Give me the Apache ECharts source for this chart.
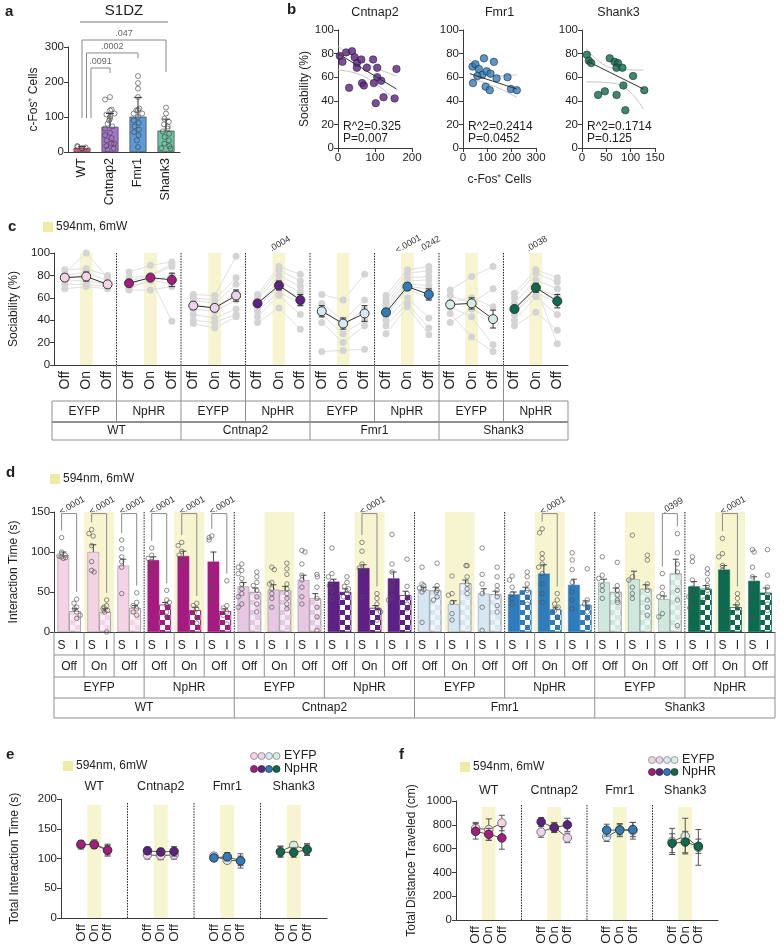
<!DOCTYPE html>
<html>
<head>
<meta charset="utf-8">
<title>S1DZ c-Fos and optogenetic sociability</title>
<script src="https://cdn.jsdelivr.net/npm/echarts@6.0.0/dist/echarts.min.js"></script>
<style>
  html, body { margin: 0; padding: 0; background: #fff; }
  #main { width: 784px; height: 951px; }
</style>
</head>
<body>
<div id="main"></div>
<script>
// ---------------- data ----------------
const genotypes = ['WT', 'Cntnap2', 'Fmr1', 'Shank3'];
const viruses = ['EYFP', 'NpHR'];
const conds = ['Off', 'On', 'Off'];

// a: c-Fos+ cells in S1DZ
const aMeans = [12, 72, 101, 61];
const aErr = [4, 38, 55, 33];
const aPoints = [
  [9, 11, 13, 15, 17],
  [157, 150, 119, 121, 107, 110, 101, 95, 90, 81, 73, 67, 55, 48, 40, 33, 24, 17, 10, 7, 24],
  [217, 197, 181, 157, 120, 110, 124, 119, 110, 100, 90, 83, 73, 64, 57, 48, 33, 14],
  [127, 110, 95, 86, 79, 73, 67, 59, 52, 43, 33, 24, 17, 11, 10]
];
// [compared group, bracket top, WT leg end, group leg end, p]
const aStats = [[1, 240, 97, 226, '.0091'], [2, 283, 97, 268, '.0002'], [3, 320, 97, 229, '.047']];

// b: sociability vs c-Fos+ cells
const bTitles = ['Cntnap2', 'Fmr1', 'Shank3'];
const bXMax = [200, 300, 150];
const bXStep = [100, 100, 50];
const bPoints = [
  [[5, 78], [12, 73], [22, 81], [38, 82], [45, 77], [51, 72], [63, 75], [51, 68], [78, 68], [30, 51], [65, 55],
   [70, 53], [95, 75], [106, 68], [106, 60], [117, 57], [97, 55], [102, 38], [123, 43], [153, 42], [158, 67]],
  [[39, 69], [51, 71], [86, 76], [65, 67], [79, 62], [59, 61], [97, 65], [113, 63], [41, 55], [93, 52], [110, 49],
   [127, 73], [138, 59], [183, 60], [197, 50], [221, 49]],
  [[10, 79], [14, 74], [19, 72], [57, 76], [67, 73], [74, 72], [71, 68], [83, 68], [33, 45], [47, 48], [71, 45],
   [85, 53], [105, 61], [89, 32], [128, 49]]
];
const bFit = [[[0, 80], [158, 50]], [[28, 63], [221, 50]], [[9, 74], [126, 50]]];
const bUpper = [[[0, 86], [75, 72], [158, 61]], [[28, 75], [120, 61], [221, 62]], [[9, 84], [70, 67], [126, 66]]];
const bLower = [[[0, 66], [75, 60], [158, 39]], [[28, 59], [120, 53], [221, 43]], [[9, 56], [64, 55], [126, 33]]];
const bStats = [['R^2=0.325', 'P=0.007'], ['R^2=0.2414', 'P=0.0452'], ['R^2=0.1714', 'P=0.125']];

// c: sociability (%), groups = WT EYFP, WT NpHR, Cntnap2 EYFP, ... Shank3 NpHR
const cMeans = [[78, 79, 72], [73, 78, 76], [53, 51, 62], [55, 71, 58], [48, 37, 46], [47, 70, 63], [54, 55, 41], [50, 69, 57]];
const cErr = [[3, 4, 2], [2, 2, 6], [3, 3, 5], [2, 4, 5], [5, 5, 7], [3, 3, 5], [3, 5, 8], [2, 4, 6]];
const cAnimals = [
  [[82, 100, 78], [85, 86, 80], [80, 83, 75], [76, 75, 72], [72, 72, 70], [68, 70, 68], [78, 80, 70]],
  [[83, 89, 92], [78, 80, 90], [75, 80, 88], [70, 75, 80], [67, 67, 70], [72, 78, 39], [68, 76, 72]],
  [[63, 62, 97], [60, 58, 78], [58, 55, 72], [55, 50, 65], [50, 48, 58], [45, 42, 50], [40, 38, 45], [37, 33, 43]],
  [[63, 88, 81], [60, 85, 75], [58, 80, 70], [55, 75, 65], [52, 70, 60], [48, 65, 55], [43, 62, 45], [38, 51, 32]],
  [[63, 58, 81], [55, 40, 58], [50, 35, 50], [45, 28, 40], [38, 20, 35], [12, 13, 14]],
  [[62, 85, 88], [58, 82, 84], [55, 78, 79], [52, 75, 76], [50, 72, 71], [47, 70, 68], [44, 68, 60], [40, 60, 42], [35, 55, 33], [28, 52, 27]],
  [[67, 79, 88], [62, 55, 68], [56, 60, 52], [52, 43, 18], [46, 25, 12], [38, 50, 40]],
  [[64, 85, 78], [60, 82, 74], [55, 76, 68], [50, 69, 61], [46, 65, 55], [40, 61, 45], [35, 47, 31], [45, 70, 19]]
];
const cStats = [[10, '.0004'], [16, '<.0001'], [17, '.0242'], [22, '.0038']];

// d: interaction time (s), S = social, I = inanimate
const dSMeans = [[96, 100, 83], [90, 95, 88], [57, 53, 65], [63, 80, 67], [53, 35, 48], [47, 73, 59], [62, 66, 41], [57, 78, 64]];
const dIMeans = [[26, 25, 30], [34, 27, 26], [50, 52, 42], [50, 30, 46], [52, 61, 47], [52, 28, 34], [50, 54, 73], [54, 31, 49]];
const dSErr = [[4, 9, 8], [4, 6, 12], [5, 6, 6], [3, 4, 8], [3, 4, 6], [3, 11, 7], [4, 10, 4], [6, 5, 5]];
const dIErr = [[3, 4, 3], [3, 4, 3], [5, 5, 6], [4, 3, 5], [4, 4, 4], [4, 3, 5], [5, 5, 18], [4, 3, 6]];
const dSPts = [
  [[118, 100, 96, 95, 94, 93, 92], [128, 123, 120, 108, 88, 77, 75], [115, 104, 94, 88, 81, 48]],
  [[105, 96, 92, 88, 81, 71], [112, 108, 101, 96, 90, 84], [120, 118, 115, 70, 57, 42]],
  [[85, 81, 77, 73, 67, 60, 54, 48, 44, 35, 31], [81, 78, 62, 60, 54, 48, 42, 31], [102, 100, 85, 71, 65, 56, 44, 35]],
  [[105, 73, 69, 63, 58, 52, 42], [112, 101, 85, 80, 77, 44], [122, 85, 75, 62, 55, 44, 40]],
  [[81, 60, 58, 55, 53, 50, 12], [70, 48, 46, 37, 23, 15], [105, 72, 60, 48, 31, 2]],
  [[70, 65, 56, 48, 42, 35], [129, 124, 98, 92, 85, 81, 73, 60, 48, 37], [99, 90, 78, 62, 50, 40, 29]],
  [[94, 71, 67, 58, 52, 42], [121, 69, 65, 56, 48, 42], [73, 56, 48, 44, 23, 19]],
  [[94, 88, 65, 55, 48, 44, 35, 30], [117, 98, 94, 83, 77, 27], [103, 100, 81, 69, 56, 40, 17]]
];
const dIPts = [
  [[41, 36, 31, 29, 25, 21, 17], [40, 33, 31, 29, 27, 25, 0], [49, 37, 33, 29, 25, 21]],
  [[52, 40, 37, 33, 25, 19], [36, 33, 29, 24, 18, 11], [64, 33, 30, 25, 21, 10]],
  [[75, 69, 62, 58, 52, 44, 35, 25], [86, 79, 72, 60, 54, 48, 42, 35, 29], [72, 69, 56, 42, 31, 19, 2]],
  [[69, 62, 57, 54, 48, 44], [48, 42, 35, 29, 25, 15], [91, 57, 48, 42, 35, 29]],
  [[86, 58, 52, 50, 44, 40], [83, 83, 69, 60, 54, 48], [81, 69, 58, 52, 44, 33, 25]],
  [[75, 69, 60, 52, 44, 35], [48, 40, 35, 31, 27, 19], [79, 40, 35, 31, 25, 17]],
  [[87, 58, 52, 46, 40, 37], [96, 90, 60, 52, 40, 31, 21], [123, 99, 85, 75, 52, 40, 8]],
  [[79, 73, 65, 58, 52, 44, 40], [48, 42, 35, 29, 19], [103, 71, 56, 45, 35, 27]]
];
// [group, condition, p]
const dStats = [[0, 0, '<.0001'], [0, 1, '<.0001'], [0, 2, '<.0001'], [1, 0, '<.0001'], [1, 1, '<.0001'], [1, 2, '<.0001'],
  [3, 1, '<.0001'], [5, 1, '<.0001'], [6, 2, '.0399'], [7, 1, '<.0001']];

// e: total interaction time (s)
const eEYFP = [[122, 125, 114], [106, 105, 106], [104, 97, 96], [112, 122, 115]];
const eEYFPErr = [[6, 6, 8], [7, 7, 7], [4, 5, 8], [9, 6, 8]];
const eNpHR = [[124, 123, 114], [113, 111, 112], [101, 103, 96], [111, 110, 115]];
const eNpHRErr = [[6, 6, 10], [6, 6, 8], [5, 7, 12], [9, 8, 10]];

// f: total distance traveled (cm)
const fEYFP = [[770, 760, 815], [740, 780, 690], [700, 760, 750], [660, 705, 610]];
const fEYFPErr = [[50, 90, 65], [45, 40, 40], [40, 45, 70], [110, 150, 150]];
const fNpHR = [[745, 720, 690], [825, 775, 800], [755, 755, 760], [645, 655, 620]];
const fNpHRErr = [[65, 50, 95], [35, 40, 55], [50, 55, 60], [80, 90, 60]];

// ---------------- style ----------------
const FONT = '"Liberation Sans", Arial, Helvetica, sans-serif';
const AX = '#3a3a3a';
const TXT = '#1e1e1e';
const TABLE = '#8f8f8f';
const SHADE = '#f6f5d0';
const SHADE_KEY = '#eeeca4';
const aCol = ['#e7547e', '#a573c9', '#5c9ad6', '#6cc3a2'];
const lightCol = ['#f5d3e6', '#ecd2ec', '#d6e9f7', '#d2eee2'];
const darkCol = ['#a61b80', '#5d2085', '#2f7cbd', '#0c6a4f'];
const lightBar = ['#f5d2e5', '#e7c7e4', '#d5e7f5', '#cde9de'];

const L = {
  a: {left: 68, top: 47, width: 112, height: 105},
  b: [{left: 338, top: 30, width: 74, height: 118}, {left: 463, top: 30, width: 73, height: 118}, {left: 582, top: 30, width: 73, height: 118}],
  c: {left: 52, top: 253, width: 516, height: 112},
  d: {left: 54, top: 512, width: 721, height: 120},
  e: {left: 61, top: 799, width: 266, height: 119},
  f: {left: 456, top: 801, width: 262, height: 119}
};

const grid = [], xAxis = [], yAxis = [], series = [], gfx = [];
const push = (arr, o) => { arr.push(o); return arr.length - 1; };

function valAxis(gi, min, max, interval, name, nameGap) {
  return {
    type: 'value', gridIndex: gi, min, max, interval,
    name: name || '', nameLocation: 'middle', nameGap: nameGap || 0,
    nameTextStyle: {fontSize: 12, color: TXT, fontFamily: FONT},
    axisLine: {show: true, lineStyle: {color: AX, width: 1}},
    axisTick: {show: true, length: 4, lineStyle: {color: AX}},
    axisLabel: {fontSize: 11.5, color: TXT, fontFamily: FONT, margin: 4, formatter: v => String(v)},
    splitLine: {show: false}
  };
}

function errSeries(xi, yi, data, o) {
  return {
    type: 'custom', xAxisIndex: xi, yAxisIndex: yi, z: o.z || 3, silent: true, clip: false, data,
    renderItem(params, api) {
      const x = api.value(0), m = api.value(1), e = api.value(2);
      const shift = o.shiftFrac ? api.size([1, 0])[0] * o.shiftFrac * api.value(3) : 0;
      const top = api.coord([x, m + e]);
      const bot = api.coord([x, o.upperOnly ? m : m - e]);
      const cx = top[0] + shift, cap = o.cap || 3;
      const style = {stroke: o.color || '#333', lineWidth: 1, fill: null};
      const kids = [
        {type: 'line', shape: {x1: cx, y1: top[1], x2: cx, y2: bot[1]}, style},
        {type: 'line', shape: {x1: cx - cap, y1: top[1], x2: cx + cap, y2: top[1]}, style}
      ];
      if (!o.upperOnly) kids.push({type: 'line', shape: {x1: cx - cap, y1: bot[1], x2: cx + cap, y2: bot[1]}, style});
      return {type: 'group', children: kids};
    }
  };
}

function shadeSeries(xi, yi, data, frac) {
  return {
    type: 'custom', xAxisIndex: xi, yAxisIndex: yi, z: 0, silent: true, data,
    renderItem(params, api) {
      const p0 = api.coord([api.value(0), 0]), p1 = api.coord([api.value(0), api.value(1)]);
      const w = api.size([1, 0])[0] * frac;
      return {type: 'rect', shape: {x: p0[0] - w / 2, y: p1[1], width: w, height: p0[1] - p1[1]}, style: {fill: SHADE}};
    }
  };
}

function txt(x, y, s, o = {}) {
  gfx.push({type: 'text', x, y, rotation: o.rot || 0, silent: true, z: 50,
    style: {text: s, fill: o.color || TXT, font: (o.bold ? 'bold ' : '') + (o.size || 12) + 'px ' + FONT,
      textAlign: o.align || 'center', textVerticalAlign: o.valign || 'middle'}});
}
function line(x1, y1, x2, y2, o = {}) {
  gfx.push({type: 'line', silent: true, z: 50, shape: {x1, y1, x2, y2},
    style: {stroke: o.color || TABLE, lineWidth: o.w || 1, lineDash: o.dash || null}});
}
function rect(x, y, w, h, fill) {
  gfx.push({type: 'rect', silent: true, z: 50, shape: {x, y, width: w, height: h}, style: {fill}});
}
function dot(cx, cy, r, fill, stroke) {
  gfx.push({type: 'circle', silent: true, z: 50, shape: {cx, cy, r}, style: {fill, stroke, lineWidth: 0.8}});
}
function lightKey(x, y) {
  rect(x, y - 5, 10, 10, SHADE_KEY);
  txt(x + 13, y, '594nm, 6mW', {align: 'left', size: 12});
}

// ---------------- a ----------------
{
  const g = push(grid, L.a);
  const x = push(xAxis, {type: 'category', gridIndex: g, data: genotypes, jitter: 10, jitterOverlap: false, jitterMargin: 0.5,
    axisLine: {lineStyle: {color: AX}}, axisTick: {show: false},
    axisLabel: {rotate: 90, interval: 0, fontSize: 12.5, color: TXT, fontFamily: FONT, margin: 6}});
  const y = push(yAxis, valAxis(g, 0, 300, 100, 'c-Fos⁺ Cells', 28));
  series.push({type: 'bar', xAxisIndex: x, yAxisIndex: y, barWidth: 17, z: 1, silent: true,
    data: aMeans.map((v, i) => ({value: v, itemStyle: {color: aCol[i], borderColor: '#444', borderWidth: 0.7}}))});
  series.push(errSeries(x, y, aMeans.map((m, i) => [i, m, aErr[i]]), {upperOnly: true, cap: 4, z: 3}));
  series.push({type: 'scatter', xAxisIndex: x, yAxisIndex: y, symbolSize: 5, z: 4, silent: true,
    itemStyle: {color: 'rgba(255,255,255,0)', borderColor: '#444', borderWidth: 0.8},
    data: aPoints.flatMap((pts, i) => pts.map(v => [i, v]))});
  series.push({type: 'custom', xAxisIndex: x, yAxisIndex: y, clip: false, z: 5, silent: true,
    data: aStats.map(s => [s[0], s[1], s[2], s[3]]),
    renderItem(params, api) {
      const i = params.dataIndex;
      const off = (aStats.length - 1 - i) * 4.5;
      const xl = api.coord([0, 0])[0] + off;
      const xr = api.coord([api.value(0), 0])[0];
      const yt = api.coord([0, api.value(1)])[1];
      const yl = api.coord([0, api.value(2)])[1];
      const yr = api.coord([0, api.value(3)])[1];
      return {type: 'group', children: [
        {type: 'polyline', shape: {points: [[xl, yl], [xl, yt], [xr, yt], [xr, yr]]}, style: {stroke: '#8a8a8a', lineWidth: 1, fill: null}},
        {type: 'text', x: (xl + xr) / 2, y: yt - 2, style: {text: aStats[i][4], font: '9px ' + FONT, fill: '#666', textAlign: 'center', textVerticalAlign: 'bottom'}}
      ]};
    }});
  txt(5, 12, 'a', {bold: true, size: 15, align: 'left'});
  txt(124, 11, 'S1DZ', {size: 15});
  line(80, 22, 168, 22, {color: '#777'});
}

// ---------------- b ----------------
L.b.forEach((lb, k) => {
  const g = push(grid, lb);
  const x = push(xAxis, valAxis(g, 0, bXMax[k], bXStep[k], k === 1 ? 'c-Fos⁺ Cells' : '', 26));
  const y = push(yAxis, valAxis(g, 0, 100, 20, k === 0 ? 'Sociability (%)' : '', 25));
  series.push({type: 'line', xAxisIndex: x, yAxisIndex: y, symbol: 'none', smooth: 0.5, silent: true, z: 1,
    lineStyle: {color: '#c4c4c4', width: 1}, data: bUpper[k]});
  series.push({type: 'line', xAxisIndex: x, yAxisIndex: y, symbol: 'none', smooth: 0.5, silent: true, z: 1,
    lineStyle: {color: '#c4c4c4', width: 1}, data: bLower[k]});
  series.push({type: 'scatter', xAxisIndex: x, yAxisIndex: y, symbolSize: 7.5, z: 2, silent: true,
    itemStyle: {color: darkCol[k + 1], borderColor: '#222', borderWidth: 0.7}, data: bPoints[k]});
  series.push({type: 'line', xAxisIndex: x, yAxisIndex: y, symbol: 'none', silent: true, z: 3,
    lineStyle: {color: '#333', width: 1}, data: bFit[k]});
  txt(lb.left + lb.width / 2, 13, bTitles[k], {size: 12.5});
  txt(lb.left + 5, 127, bStats[k][0], {align: 'left', size: 12});
  txt(lb.left + 5, 139, bStats[k][1], {align: 'left', size: 12});
});
txt(287, 10, 'b', {bold: true, size: 15, align: 'left'});

// ---------------- c ----------------
{
  const lc = L.c;
  const g = push(grid, lc);
  const cats = [].concat(...Array(8).fill(conds));
  const x = push(xAxis, {type: 'category', gridIndex: g, data: cats,
    axisLine: {lineStyle: {color: AX}}, axisTick: {alignWithLabel: true, length: 5, lineStyle: {color: AX}},
    axisLabel: {rotate: 90, interval: 0, fontSize: 14, color: TXT, fontFamily: FONT, margin: 6}});
  const y = push(yAxis, valAxis(g, 0, 100, 20, 'Sociability (%)', 30));
  series.push(shadeSeries(x, y, cMeans.map((_, i) => [i * 3 + 1, 100]), 0.6));
  cAnimals.forEach((grp, i) => grp.forEach(an => series.push({
    type: 'line', xAxisIndex: x, yAxisIndex: y, z: 1, silent: true, symbol: 'circle', symbolSize: 7,
    itemStyle: {color: '#d4d4d4'}, lineStyle: {color: '#e0e0e0', width: 1},
    data: an.map((v, k) => [i * 3 + k, v])
  })));
  cMeans.forEach((m, i) => {
    const col = i % 2 ? darkCol[i >> 1] : lightCol[i >> 1];
    series.push(errSeries(x, y, m.map((v, k) => [i * 3 + k, v, cErr[i][k]]), {cap: 3, z: 3}));
    series.push({type: 'line', xAxisIndex: x, yAxisIndex: y, z: 4, silent: true, symbol: 'circle', symbolSize: 9,
      itemStyle: {color: col, borderColor: '#333', borderWidth: 1}, lineStyle: {color: '#333', width: 1},
      data: m.map((v, k) => [i * 3 + k, v])});
  });
  series.push({type: 'custom', xAxisIndex: x, yAxisIndex: y, clip: false, z: 5, silent: true,
    data: cStats.map(s => [s[0], 108]),
    renderItem(params, api) {
      const p = api.coord([api.value(0), api.value(1)]);
      return {type: 'text', x: p[0] + 1, y: p[1], rotation: Math.PI / 6,
        style: {text: cStats[params.dataIndex][1], font: '9px ' + FONT, fill: '#333', textAlign: 'center', textVerticalAlign: 'middle'}};
    }});

  const y0 = lc.top + lc.height, gw = lc.width / 8;
  for (let k = 1; k < 8; k++) {
    line(lc.left + k * gw, lc.top, lc.left + k * gw, y0, {color: '#222', dash: [1.5, 1.2]});
    line(lc.left + k * gw, y0, lc.left + k * gw, 422);
  }
  [0, 8].forEach(k => line(lc.left + k * gw, 401, lc.left + k * gw, 440));
  [2, 4, 6].forEach(k => line(lc.left + k * gw, 422, lc.left + k * gw, 440));
  line(lc.left, 401, lc.left + lc.width, 401);
  line(lc.left, 422, lc.left + lc.width, 422, {w: 2});
  line(lc.left, 440, lc.left + lc.width, 440);
  for (let i = 0; i < 8; i++) txt(lc.left + (i + 0.5) * gw, 412, viruses[i % 2]);
  genotypes.forEach((s, i) => txt(lc.left + (i + 0.5) * 2 * gw, 431, s));
  txt(8, 227, 'c', {bold: true, size: 15, align: 'left'});
  lightKey(43, 227);
}

// ---------------- d ----------------
{
  const ld = L.d;
  const g = push(grid, ld);
  const cats = [].concat(...Array(8).fill(conds));
  const xBand = push(xAxis, {type: 'category', gridIndex: g, data: cats, show: false});
  const xBar = push(xAxis, {type: 'category', gridIndex: g, position: 'bottom', data: [].concat(...Array(24).fill(['S', 'I'])),
    jitter: 8, jitterOverlap: false, jitterMargin: 0.3,
    axisLine: {lineStyle: {color: AX}}, axisTick: {alignWithLabel: true, length: 5, lineStyle: {color: AX}},
    axisLabel: {interval: 0, fontSize: 12, color: TXT, fontFamily: FONT, margin: 8}});
  const y = push(yAxis, valAxis(g, 0, 150, 50, 'Interaction Time (s)', 31));
  const gap = 0.22;
  const barCol = i => (i % 2 ? darkCol[i >> 1] : lightBar[i >> 1]);
  series.push(shadeSeries(xBand, y, dSMeans.map((_, i) => [i * 3 + 1, 150]), 1));
  series.push({type: 'bar', xAxisIndex: xBand, yAxisIndex: y, barGap: '0%', barCategoryGap: (gap * 100) + '%', z: 2, silent: true,
    data: dSMeans.flatMap((m, i) => m.map(v => ({value: v,
      itemStyle: {color: barCol(i), borderColor: i % 2 ? barCol(i) : '#9a9a9a', borderWidth: 0.6}})))});
  series.push({type: 'bar', xAxisIndex: xBand, yAxisIndex: y, barGap: '0%', barCategoryGap: (gap * 100) + '%', z: 2, silent: true,
    data: dIMeans.flatMap((m, i) => m.map(v => ({value: v,
      itemStyle: {color: barCol(i), borderColor: i % 2 ? barCol(i) : '#9a9a9a', borderWidth: 0.6,
        decal: {symbol: 'rect', symbolSize: 1, dashArrayX: [[5, 5], [0, 5, 5, 0]], dashArrayY: [5, 0],
          color: i % 2 ? '#ffffff' : 'rgba(255,255,255,0.6)'}}})))});
  const shift = (1 - gap) / 4;
  series.push(errSeries(xBand, y, dSMeans.flatMap((m, i) => m.map((v, k) => [i * 3 + k, v, dSErr[i][k], -1])), {upperOnly: true, cap: 3, z: 3, shiftFrac: shift, color: '#444'}));
  series.push(errSeries(xBand, y, dIMeans.flatMap((m, i) => m.map((v, k) => [i * 3 + k, v, dIErr[i][k], 1])), {upperOnly: true, cap: 3, z: 3, shiftFrac: shift, color: '#444'}));
  const pts = [];
  dSPts.forEach((grp, i) => grp.forEach((arr, k) => arr.forEach(v => pts.push([2 * (i * 3 + k), v]))));
  dIPts.forEach((grp, i) => grp.forEach((arr, k) => arr.forEach(v => pts.push([2 * (i * 3 + k) + 1, v]))));
  series.push({type: 'scatter', xAxisIndex: xBar, yAxisIndex: y, symbolSize: 4.5, z: 4, silent: true,
    itemStyle: {color: 'rgba(255,255,255,0)', borderColor: '#505050', borderWidth: 0.8}, data: pts});
  series.push({type: 'custom', xAxisIndex: xBar, yAxisIndex: y, clip: false, z: 5, silent: true,
    data: dStats.map(([i, k]) => [2 * (i * 3 + k), 148,
      Math.min(144, Math.max(...dSPts[i][k]) + 9), Math.min(144, Math.max(...dIPts[i][k]) + 9)]),
    renderItem(params, api) {
      const s = api.value(0);
      const pl = api.coord([s, api.value(2)]), pr = api.coord([s + 1, api.value(3)]);
      const yt = api.coord([s, api.value(1)])[1];
      return {type: 'group', children: [
        {type: 'polyline', shape: {points: [[pl[0], pl[1]], [pl[0], yt], [pr[0], yt], [pr[0], pr[1]]]},
          style: {stroke: '#8a8a8a', lineWidth: 1, fill: null}},
        {type: 'text', x: (pl[0] + pr[0]) / 2 + 3, y: yt - 8, rotation: Math.PI / 6,
          style: {text: dStats[params.dataIndex][2], font: '9px ' + FONT, fill: '#333', textAlign: 'center', textVerticalAlign: 'middle'}}
      ]};
    }});

  const y0 = ld.top + ld.height, cw = ld.width / 24;
  for (let k = 0; k <= 24; k++) {
    const bottom = k % 6 === 0 ? 718 : (k % 3 === 0 ? 698 : 677);
    line(ld.left + k * cw, y0, ld.left + k * cw, bottom);
    if (k % 3 === 0 && k > 0 && k < 24) line(ld.left + k * cw, ld.top, ld.left + k * cw, y0, {color: '#222', dash: [1.5, 1.2]});
  }
  [655, 677, 698, 718].forEach(yy => line(ld.left, yy, ld.left + ld.width, yy));
  for (let k = 0; k < 24; k++) txt(ld.left + (k + 0.5) * cw, 667, conds[k % 3]);
  for (let i = 0; i < 8; i++) txt(ld.left + (i + 0.5) * 3 * cw, 688, viruses[i % 2]);
  genotypes.forEach((s, i) => txt(ld.left + (i + 0.5) * 6 * cw, 708, s));
  txt(6, 473, 'd', {bold: true, size: 15, align: 'left'});
  lightKey(50, 479);
}

// ---------------- e, f ----------------
function summaryPanel(lp, yMax, yStep, yName, nameGap, eyfp, eyfpErr, nphr, nphrErr, shadeTop, titleY) {
  const g = push(grid, lp);
  const slots = [].concat(...genotypes.map(() => ['', 'Off', 'On', 'Off', '']));
  const x = push(xAxis, {type: 'category', gridIndex: g, data: slots,
    axisLine: {lineStyle: {color: AX}},
    axisTick: {alignWithLabel: true, length: 5, interval: (i, v) => v !== '', lineStyle: {color: AX}},
    axisLabel: {rotate: 90, interval: 0, fontSize: 13.5, color: TXT, fontFamily: FONT, margin: 6}});
  const y = push(yAxis, valAxis(g, 0, yMax, yStep, yName, nameGap));
  series.push(shadeSeries(x, y, genotypes.map((_, i) => [i * 5 + 2, shadeTop]), 1.05));
  genotypes.forEach((_, i) => {
    [[eyfp, eyfpErr, lightCol[i], '#777'], [nphr, nphrErr, darkCol[i], '#333']].forEach(([m, e, col, edge], v) => {
      series.push(errSeries(x, y, m[i].map((val, k) => [i * 5 + 1 + k, val, e[i][k]]), {cap: 3, z: 3 + v * 2, color: '#555'}));
      series.push({type: 'line', xAxisIndex: x, yAxisIndex: y, z: 4 + v * 2, silent: true, symbol: 'circle', symbolSize: 8.5,
        itemStyle: {color: col, borderColor: edge, borderWidth: 1}, lineStyle: {color: '#555', width: 1},
        data: m[i].map((val, k) => [i * 5 + 1 + k, val])});
    });
  });
  const gw = lp.width / 4;
  for (let k = 1; k < 4; k++) line(lp.left + k * gw, lp.top + 4, lp.left + k * gw, lp.top + lp.height, {color: '#222', dash: [1.5, 1.2]});
  genotypes.forEach((s, i) => txt(lp.left + (i + 0.5) * gw, titleY, s, {size: 12.5}));
}
summaryPanel(L.e, 200, 50, 'Total Interaction Time (s)', 40, eEYFP, eEYFPErr, eNpHR, eNpHRErr, 190, 787);
summaryPanel(L.f, 1000, 200, 'Total Distance Traveled (cm)', 38, fEYFP, fEYFPErr, fNpHR, fNpHRErr, 950, 791);

function groupKey(x, y1, y2) {
  for (let i = 0; i < 4; i++) {
    dot(x + i * 7.5, y1, 3.5, lightCol[i], '#888');
    dot(x + i * 7.5, y2, 3.5, darkCol[i], '#333');
  }
  txt(x + 30, y1, 'EYFP', {align: 'left', size: 12.5});
  txt(x + 30, y2, 'NpHR', {align: 'left', size: 12.5});
}
txt(6, 755, 'e', {bold: true, size: 15, align: 'left'});
lightKey(63, 766);
groupKey(254, 756, 769);
txt(399, 755, 'f', {bold: true, size: 15, align: 'left'});
lightKey(460, 767);
groupKey(652, 760, 772);

// ---------------- render ----------------
const chart = echarts.init(document.getElementById('main'), null, {renderer: 'canvas'});
chart.setOption({
  animation: false,
  backgroundColor: '#fff',
  textStyle: {fontFamily: FONT},
  grid, xAxis, yAxis, series,
  graphic: {elements: gfx}
});
</script>
</body>
</html>
